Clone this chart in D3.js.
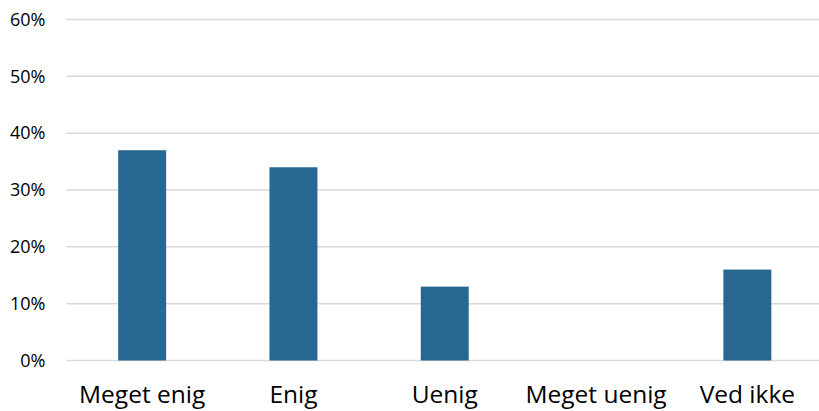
<!DOCTYPE html>
<html>
<head>
<meta charset="utf-8">
<script src="https://cdn.jsdelivr.net/npm/d3@7"></script>
<style>
  html, body { margin: 0; padding: 0; background: #fff; }
  svg { display: block; }
</style>
</head>
<body>
<svg id="chart" width="819" height="411"></svg>
<script>
// Survey answers and their share of respondents
const categories = ["Meget enig", "Enig", "Uenig", "Meget uenig", "Ved ikke"];
const shares = [0.37, 0.34, 0.13, 0, 0.16];
const yTicks = [0, 0.1, 0.2, 0.3, 0.4, 0.5, 0.6];

const width = 819, height = 411;
const margin = { top: 19.5, right: -4, bottom: 50.5, left: 66.5 };
const font = "'Open Sans', Lato, sans-serif";

const svg = d3.select("#chart");

const x = d3.scaleBand()
  .domain(categories)
  .range([margin.left, width - margin.right])
  .paddingInner(0.683)
  .paddingOuter(0.3415);

const y = d3.scaleLinear()
  .domain([0, 0.6])
  .range([height - margin.bottom, margin.top]);

// Horizontal gridlines
svg.append("g")
  .selectAll("line")
  .data(yTicks)
  .join("line")
  .attr("x1", margin.left)
  .attr("x2", width - margin.right)
  .attr("y1", d => y(d))
  .attr("y2", d => y(d))
  .attr("stroke", "#d9d9d9")
  .attr("stroke-width", 1.5);

// Y axis labels
const yAxis = d3.axisLeft(y)
  .tickValues(yTicks)
  .tickFormat(d3.format(".0%"))
  .tickSize(0)
  .tickPadding(21);
svg.append("g")
  .attr("transform", `translate(${margin.left},0)`)
  .call(yAxis)
  .call(g => g.select(".domain").remove())
  .call(g => g.selectAll("text")
    .style("font-family", font)
    .style("font-size", "18px")
    .attr("fill", "#000"));

// Bars
svg.append("g")
  .selectAll("rect")
  .data(categories)
  .join("rect")
  .attr("x", d => x(d))
  .attr("width", x.bandwidth())
  .attr("y", (d, i) => y(shares[i]))
  .attr("height", (d, i) => y(0) - y(shares[i]))
  .attr("fill", "#276891");

// Category labels
const xAxis = d3.axisBottom(x).tickSize(0).tickPadding(25);
svg.append("g")
  .attr("transform", `translate(0,${y(0)})`)
  .call(xAxis)
  .call(g => g.select(".domain").remove())
  .call(g => g.selectAll("text")
    .style("font-family", font)
    .style("font-size", "24.5px")
    .attr("fill", "#000"));
</script>
</body>
</html>
